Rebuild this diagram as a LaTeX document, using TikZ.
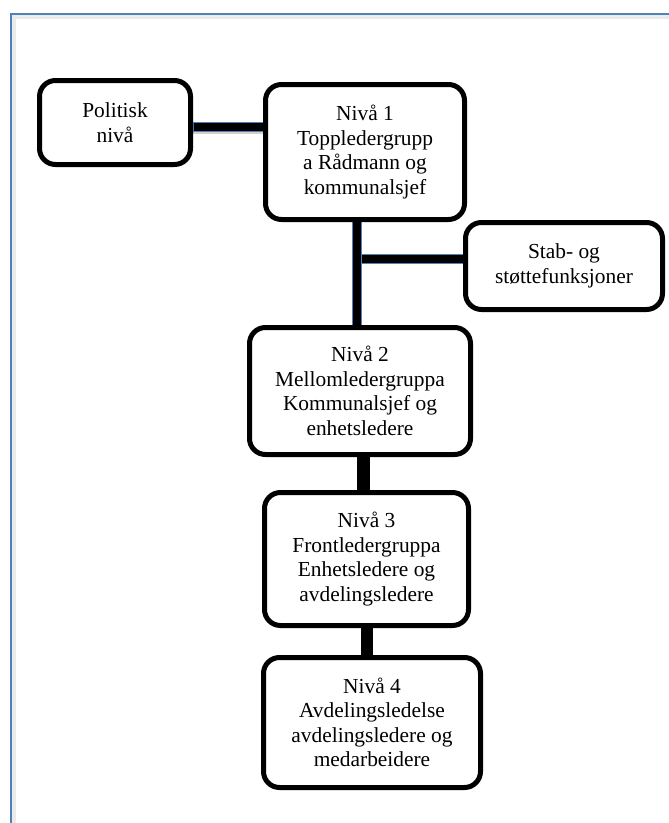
\documentclass[tikz,border=0pt]{standalone}
\usepackage{fontspec}
\setmainfont{Liberation Serif}
\usetikzlibrary{backgrounds}
\definecolor{frameblue}{RGB}{79,129,189}
\tikzset{
  box/.style={draw=black, line width=5pt, rounded corners=16pt, fill=white,
    align=center, inner sep=0pt, font=\fontsize{21.4}{24.5}\selectfont},
  bluelinkout/.style={draw=frameblue, line width=10pt},
  bluelinkin/.style={draw=black, line width=8pt, shorten <=1pt, shorten >=1pt},
  blacklink/.style={draw=black, line width=13pt},
  shadowlink/.style={draw=black!18, line width=10pt}
}
\begin{document}
\begin{tikzpicture}[x=1pt,y=-1pt]
\useasboundingbox (0,0) rectangle (669,823);
% frame
\draw[black!8, line width=4pt] (14,823) -- (14,17) -- (669,17);
\draw[frameblue, line width=2pt] (11,823) -- (11,14) -- (669,14);

% nodes
\node[box, minimum width=151pt, minimum height=84pt] (pol) at (115,122.5) {Politisk\\nivå};
\node[box, minimum width=199pt, minimum height=135pt] (n1) at (365,152) {Nivå 1\\Toppledergrupp\\a Rådmann og\\kommunalsjef};
\node[box, minimum width=197pt, minimum height=87pt] (stab) at (564,266) {Stab- og\\støttefunksjoner};
\node[box, minimum width=221pt, minimum height=127pt] (n2) at (360,391) {Nivå 2\\Mellomledergruppa\\Kommunalsjef og\\enhetsledere};
\node[box, minimum width=204pt, minimum height=133pt] (n3) at (366.5,559) {Nivå 3\\Frontledergruppa\\Enhetsledere og\\avdelingsledere};
\node[box, minimum width=217pt, minimum height=130pt] (n4) at (372,722.5) {Nivå 4\\Avdelingsledelse\\avdelingsledere og\\medarbeidere};

% helper coordinates
\coordinate (h1) at (0,127);
\coordinate (v1) at (357,0);
\coordinate (h2) at (0,259);
\coordinate (j1) at (357,259);
\coordinate (v2) at (363,0);
\coordinate (v3) at (367,0);

\begin{scope}[on background layer]
  % Politisk -- Nivå 1
  \draw[shadowlink] ([yshift=-2pt]pol.east |- h1) -- ([yshift=-2pt]n1.west |- h1);
  \draw[bluelinkout] (pol.east |- h1) -- ([xshift=2pt]n1.west |- h1);
  \draw[bluelinkin] (pol.east |- h1) -- ([xshift=2pt]n1.west |- h1);
  % Nivå 1 -- Nivå 2
  \draw[bluelinkout] ([yshift=2pt]n1.south -| v1) -- ([yshift=-2pt]n2.north -| v1);
  \draw[bluelinkin] ([yshift=2pt]n1.south -| v1) -- ([yshift=-2pt]n2.north -| v1);
  % junction -- Stab
  \draw[bluelinkout] ([xshift=5pt]j1) -- ([xshift=2pt]stab.west |- h2);
  \draw[bluelinkin] ([xshift=4pt]j1) -- ([xshift=2pt]stab.west |- h2);
  % Nivå 2 -- Nivå 3
  \draw[blacklink] (n2.south -| v2) -- (n3.north -| v2);
  % Nivå 3 -- Nivå 4
  \draw[blacklink, line width=12pt] (n3.south -| v3) -- (n4.north -| v3);
\end{scope}
\end{tikzpicture}
\end{document}
